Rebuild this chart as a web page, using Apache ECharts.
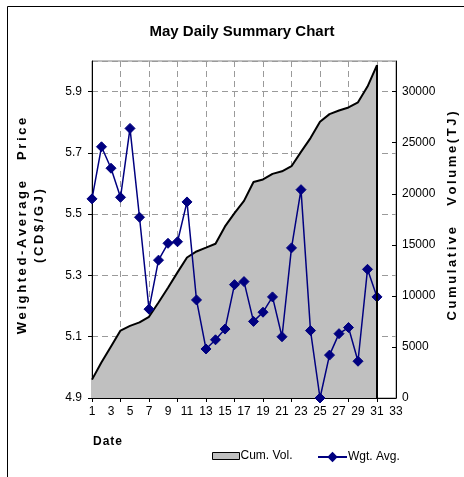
<!DOCTYPE html>
<html>
<head>
<meta charset="utf-8">
<script src="https://cdn.jsdelivr.net/npm/echarts@6/dist/echarts.min.js"></script>
<style>
  html, body { margin: 0; padding: 0; background: #fff; }
  #chart { width: 464px; height: 477px; }
</style>
</head>
<body>
<div id="chart"></div>
<script>
// ---- Data ----
const days = ['1','2','3','4','5','6','7','8','9','10','11','12','13','14','15','16','17','18','19','20','21','22','23','24','25','26','27','28','29','30','31','32','33'];
const wgtAvg = [5.55, 5.72, 5.65, 5.555, 5.78, 5.49, 5.19, 5.35, 5.405, 5.41, 5.54, 5.22, 5.06, 5.09, 5.125, 5.27, 5.28, 5.15, 5.18, 5.23, 5.10, 5.39, 5.58, 5.12, 4.90, 5.04, 5.11, 5.13, 5.02, 5.32, 5.23];
const cumVol = [1800, 3500, 5050, 6600, 7060, 7400, 7950, 9350, 10800, 12300, 13760, 14350, 14720, 15100, 16800, 18100, 19300, 21150, 21400, 21950, 22200, 22700, 24100, 25450, 27050, 27800, 28150, 28450, 28950, 30500, 32600];
const seriesNames = ['Cum. Vol.', 'Wgt. Avg.'];
const titleText = 'May Daily Summary Chart';
const leftTitle = ['Weighted-Average   Price', '(CD$/GJ)'];
const rightTitle = 'Cumulative   Volume(TJ)';
const xTitle = 'Date';

function spaced(s, sp) { return s.split('').join(sp); }

const FONT = "'Liberation Sans', Arial, sans-serif";
const chart = echarts.init(document.getElementById('chart'), null, { renderer: 'canvas' });

const legendText = { fontFamily: FONT, fontSize: 12, color: '#000', padding: [0, 0, 0, -4] };

const option = {
  animation: false,
  backgroundColor: '#ffffff',
  title: {
    text: titleText,
    left: 237, top: 19, textAlign: 'center',
    textStyle: { fontFamily: FONT, fontWeight: 'bold', fontSize: 15, color: '#000' }
  },
  grid: {
    left: 92, top: 61, width: 304, height: 337,
    show: true, borderColor: '#808080', borderWidth: 1, backgroundColor: 'transparent'
  },
  legend: [
    {
      left: 207, top: 445,
      itemWidth: 27, itemHeight: 7,
      textStyle: legendText,
      data: [{ name: seriesNames[0], icon: 'rect', itemStyle: { color: '#c0c0c0', borderColor: '#000', borderWidth: 1 } }]
    },
    {
      left: 312, top: 446,
      itemWidth: 29, itemHeight: 13,
      textStyle: legendText,
      data: [{ name: seriesNames[1] }]
    }
  ],
  xAxis: {
    type: 'category', data: days, boundaryGap: false,
    axisLine: { lineStyle: { color: '#000', width: 1 } },
    axisTick: { interval: 2, length: 4, lineStyle: { color: '#000' } },
    axisLabel: { interval: 1, margin: 8, fontFamily: FONT, fontSize: 12, color: '#000' },
    splitLine: { show: true, interval: 2, lineStyle: { type: [6, 4], color: '#9a9a9a', width: 1 } }
  },
  yAxis: [
    {
      type: 'value', position: 'left', min: 4.9, max: 6.0, interval: 0.2,
      axisLine: { show: true, lineStyle: { color: '#000', width: 1 } },
      axisTick: { show: true, length: 4, lineStyle: { color: '#000' } },
      axisLabel: { showMaxLabel: false, margin: 10, fontFamily: FONT, fontSize: 12, color: '#000',
        formatter: v => v.toFixed(1) },
      splitLine: { show: true, lineStyle: { type: [6, 4], color: '#9a9a9a', width: 1 } }
    },
    {
      type: 'value', position: 'right', min: 0, max: 33000, interval: 5000,
      axisLine: { show: true, lineStyle: { color: '#000', width: 1 } },
      axisTick: { show: true, inside: true, length: 4, lineStyle: { color: '#000' } },
      axisLabel: { showMaxLabel: false, margin: 6, fontFamily: FONT, fontSize: 12, color: '#000',
        formatter: v => String(v) },
      splitLine: { show: false }
    }
  ],
  series: [
    {
      name: seriesNames[0], type: 'line', yAxisIndex: 1, data: cumVol,
      symbol: 'none', smooth: false,
      lineStyle: { color: '#000', width: 2 },
      itemStyle: { color: '#c0c0c0', borderColor: '#000', borderWidth: 1 },
      areaStyle: { color: '#c0c0c0', opacity: 1 },
      markLine: {
        silent: true, symbol: 'none', label: { show: false },
        lineStyle: { color: '#000', width: 2, type: 'solid' },
        data: [[
          { coord: [days[cumVol.length - 1], cumVol[cumVol.length - 1]] },
          { coord: [days[cumVol.length - 1], 0] }
        ]]
      },
      z: 2
    },
    {
      name: seriesNames[1], type: 'line', yAxisIndex: 0, data: wgtAvg,
      symbol: 'diamond', symbolSize: 10, showAllSymbol: true,
      lineStyle: { color: '#000080', width: 1.5 },
      itemStyle: { color: '#000080', borderColor: '#000080' },
      z: 3
    }
  ],
  graphic: [
    { type: 'rect', silent: true, z: -10,
      shape: { x: 7.5, y: 6.5, width: 470, height: 480 },
      style: { fill: null, stroke: '#000', lineWidth: 1 } },
    { type: 'text', silent: true, x: 31, y: 226, rotation: Math.PI / 2,
      style: { text: spaced(leftTitle[0], '\u2009') + '\n' + spaced(leftTitle[1], '\u2009'), textAlign: 'center', textVerticalAlign: 'middle',
        font: "bold 13px 'Liberation Sans', Arial, sans-serif", fill: '#000', lineHeight: 17 } },
    { type: 'text', silent: true, x: 452, y: 216, rotation: Math.PI / 2,
      style: { text: spaced(rightTitle, '\u2009'), textAlign: 'center', textVerticalAlign: 'middle',
        font: "bold 13px 'Liberation Sans', Arial, sans-serif", fill: '#000' } },
    { type: 'text', silent: true, x: 93, y: 442,
      style: { text: spaced(xTitle, '\u200A'), textAlign: 'left', textVerticalAlign: 'middle',
        font: "bold 12px 'Liberation Sans', Arial, sans-serif", fill: '#000' } }
  ]
};
chart.setOption(option);
</script>
</body>
</html>
